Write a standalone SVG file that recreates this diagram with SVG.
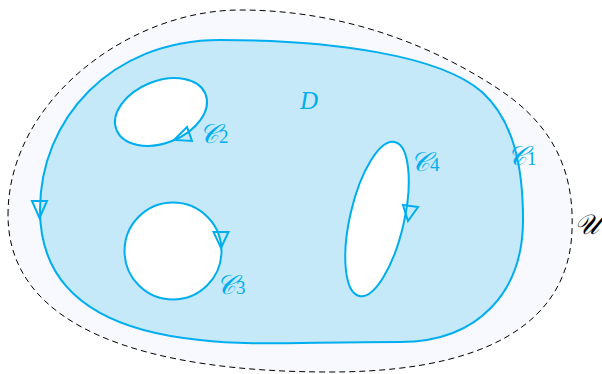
<svg xmlns="http://www.w3.org/2000/svg" width="602" height="374" viewBox="0 0 602 374">
<style>
.h{stroke:#00aeef;stroke-width:2;fill:#fff}
.ar{stroke:#00aeef;stroke-width:2;fill:none;stroke-linejoin:miter}
.l{font-family:"Liberation Serif",serif;font-style:italic;fill:#00aeef;font-size:27px}
.s{font-family:"Liberation Serif",serif;font-style:normal;fill:#00aeef;font-size:19px}
</style>
<rect width="602" height="374" fill="#fff"/>
<g id="U">
<path d="M8,215 C8,100 130,10 240,10 C350,10 440,50 500,90 C560,130 574,180 572,230 C570,300 520,372 330,372 C150,372 8,330 8,215 Z" fill="#f8f8ff" stroke="#000" stroke-width="1" stroke-dasharray="6,4"/>
<text x="574" y="234" font-family="Liberation Serif,serif" font-style="italic" font-size="28" fill="#000">𝒰</text>
</g>
<g id="C1">
<path d="M40,210 C40,120 110,40 220,40 C330,40 440,55 482,92 C515,122 523,170 523,220 C523,290 480,342 400,342 C300,342 250,346 200,340 C100,330 40,290 40,210 Z" fill="#c5e9f8" stroke="#00aeef" stroke-width="2"/>
<text class="l" x="507" y="165">𝒞<tspan class="s">1</tspan></text>
</g>
<g id="D"><text x="300" y="109" font-family="Liberation Serif,serif" font-style="italic" font-size="25" fill="#00aeef">D</text></g>
<g id="C2">
<ellipse class="h" cx="161" cy="112" rx="48" ry="31" transform="rotate(-22 161 112)"/>
<text class="l" x="199" y="143">𝒞<tspan class="s">2</tspan></text>
</g>
<g id="C3">
<circle class="h" cx="173" cy="251" r="48.5"/>
<text class="l" x="216" y="294">𝒞<tspan class="s">3</tspan></text>
</g>
<g id="C4">
<ellipse class="h" cx="377" cy="219" rx="27" ry="79" transform="rotate(13 377 219)"/>
<text class="l" x="410" y="171">𝒞<tspan class="s">4</tspan></text>
</g>
<g id="connectors">
<polygon class="ar" points="32,201 47,201 39.5,218"/>
<polygon class="ar" points="174,140 187,127 192,141"/>
<polygon class="ar" points="213.5,232 228.5,232 221,248"/>
<polygon class="ar" points="403,205 418,207 408,221"/>
</g>
</svg>
